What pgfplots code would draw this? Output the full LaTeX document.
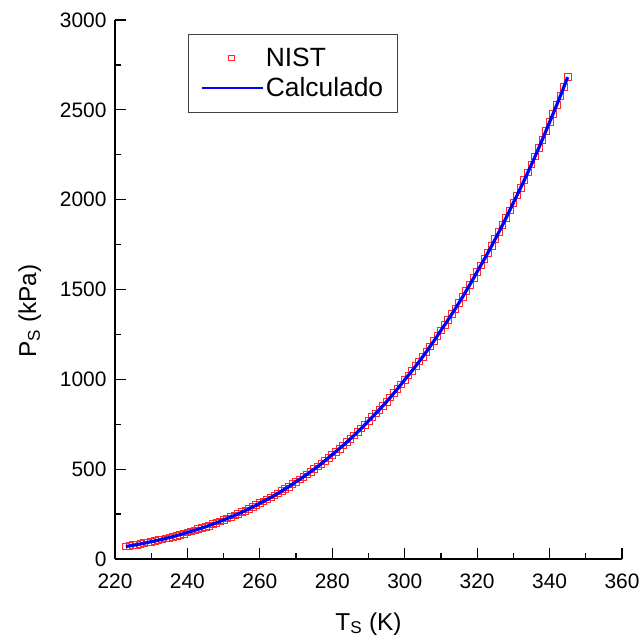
\documentclass[border=0pt]{standalone}
\usepackage{fontspec}
\setmainfont{Liberation Sans}
\usepackage{pgfplots}
\pgfplotsset{compat=1.18}
\usepackage{pgfplotstable}

\pgfplotstableread{
T P
223 69.70
224 73.01
225 76.47
226 80.10
227 83.90
228 87.88
229 92.05
230 96.42
231 100.62
232 105.00
233 109.58
234 114.35
235 119.33
236 124.53
237 129.95
238 135.61
239 141.52
240 147.68
241 153.52
242 159.60
243 165.91
244 172.48
245 179.30
246 186.39
247 193.77
248 201.44
249 209.40
250 217.69
251 225.56
252 233.71
253 242.15
254 250.90
255 259.97
256 269.36
257 279.10
258 289.18
259 299.63
260 310.46
261 320.76
262 331.40
263 342.39
264 353.75
265 365.49
266 377.61
267 390.14
268 403.08
269 416.45
270 430.27
271 443.43
272 457.00
273 470.97
274 485.38
275 500.23
276 515.53
277 531.30
278 547.55
279 564.30
280 581.56
281 598.04
282 614.99
283 632.42
284 650.34
285 668.77
286 687.73
287 707.22
288 727.26
289 747.87
290 769.06
291 789.33
292 810.14
293 831.49
294 853.41
295 875.91
296 898.99
297 922.70
298 947.02
299 971.98
300 997.60
301 1022.17
302 1047.35
303 1073.15
304 1099.58
305 1126.66
306 1154.41
307 1182.85
308 1211.98
309 1241.83
310 1272.42
311 1301.82
312 1331.89
313 1362.66
314 1394.14
315 1426.35
316 1459.30
317 1493.01
318 1527.50
319 1562.79
320 1598.90
321 1633.70
322 1669.25
323 1705.58
324 1742.70
325 1780.62
326 1819.38
327 1858.97
328 1899.43
329 1940.76
330 1983.00
331 2023.83
332 2065.50
333 2108.04
334 2151.44
335 2195.74
336 2240.96
337 2287.10
338 2334.19
339 2382.26
340 2431.31
341 2479.49
342 2528.61
343 2578.71
344 2629.81
345 2681.92
}\nist

\definecolor{mkred}{RGB}{255,40,40}

\pgfplotsset{
  mklegend/.style={legend image code/.code={\draw[##1, mark size=2.8bp] plot coordinates {(30bp,0bp)};}},
  lnlegend/.style={legend image code/.code={\draw[##1, line width=2.4bp] (0bp,0bp) -- (61bp,0bp);}},
}

\begin{document}
\begin{tikzpicture}
\path[use as bounding box] (0,0) rectangle (641bp,641bp);
\begin{axis}[
  at={(115bp,82bp)}, anchor=south west,
  scale only axis, width=507bp, height=539bp,
  xmin=220, xmax=360, ymin=0, ymax=3000,
  clip mode=individual,
  axis lines=left,
  axis line style={-, line width=1.2bp, black},
  xtick={220,240,...,360}, ytick={0,500,...,3000},
  minor x tick num=1, minor y tick num=1,
  tick align=inside,
  major tick length=11bp, minor tick length=6bp,
  every tick/.style={black, line width=1.2bp},
  /pgf/number format/assume math mode=true,
  /pgf/number format/1000 sep={},
  scaled y ticks=false,
  tick label style={font=\fontsize{21}{24}\selectfont},
  xticklabel style={yshift=-11bp},
  yticklabel style={xshift=-5bp},
  label style={font=\fontsize{24.5}{28}\selectfont},
  xlabel={T\textsubscript{S} (K)},
  ylabel={P\textsubscript{S} (kPa)},
  xlabel style={at={(axis description cs:0.5,-0.132)}, anchor=base},
  ylabel style={at={(axis description cs:-0.168,0.46)}, anchor=center},
  legend style={at={(0.144,0.974)}, anchor=north west,
    draw=black!75, line width=0.8bp,
    font=\fontsize{26.5}{30}\selectfont,
    inner xsep=12bp, inner ysep=11.5bp, row sep=6bp,
    /tikz/every even column/.append style={column sep=12bp}},
  legend cell align=left,
]
\addplot[only marks, mark=square, mark size=3.4bp, mkred, line width=0.8bp, mklegend]
  table[x=T, y=P] {\nist};
\addlegendentry{NIST}
\addplot[blue, line width=3.2bp, smooth, no marks, lnlegend]
  table[x=T, y=P] {\nist};
\addlegendentry{Calculado}
\end{axis}
\end{tikzpicture}
\end{document}
